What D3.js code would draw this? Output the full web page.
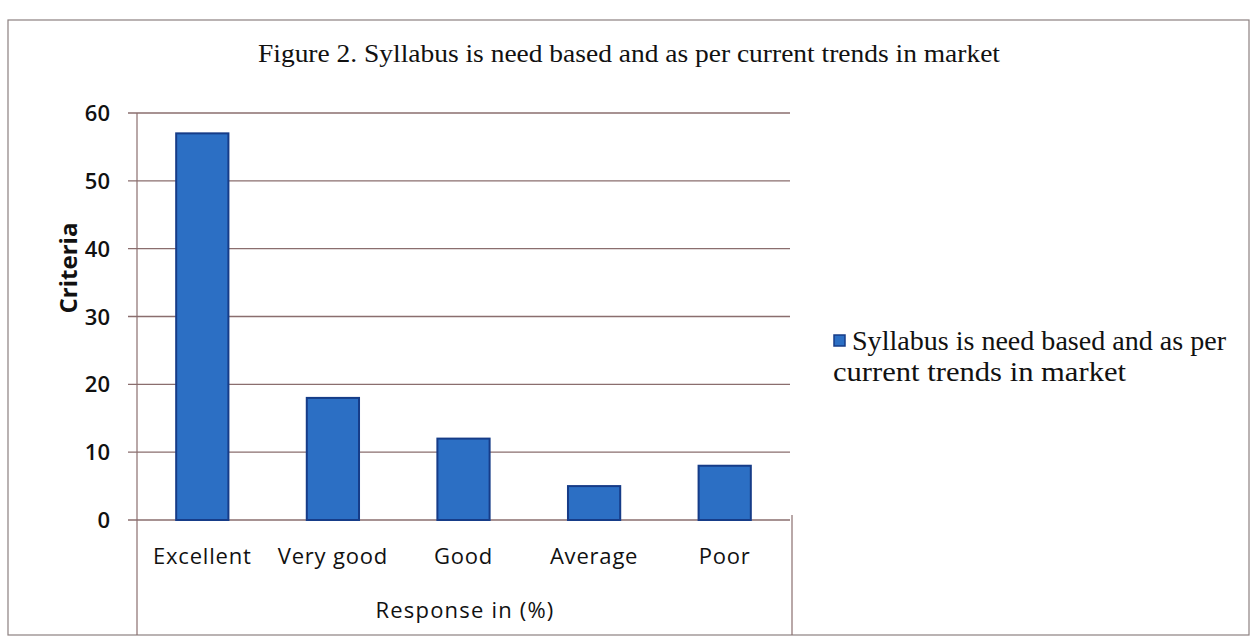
<!DOCTYPE html>
<html><head><meta charset="utf-8">
<script src="https://cdn.jsdelivr.net/npm/d3@7"></script>
<style>body{margin:0;background:#fff}svg{display:block}</style>
</head><body>
<svg id="c" width="1255" height="639"></svg>
<script>
const categories = ["Excellent","Very good","Good","Average","Poor"];
const values = [57, 18, 12, 5, 8];
const yTicks = [0,10,20,30,40,50,60];
const titleText = "Figure 2. Syllabus is need based and as per current trends in market";
const legendLines = ["Syllabus is need based and as per","current trends in market"];
const xTitle = "Response in (%)";
const yTitle = "Criteria";

const svg = d3.select("#c");
const L = 137, R = 790, T = 113, B = 520;

// outer frame
svg.append("rect").attr("x",8).attr("y",20).attr("width",1241).attr("height",615)
  .attr("fill","none").attr("stroke","#8c8080").attr("stroke-width",1.2);

const x = d3.scaleBand().domain(categories).range([L,R]).paddingInner(0.6).paddingOuter(0.3);
const y = d3.scaleLinear().domain([0,60]).range([B,T]);

const gridC = "#8a6e6e";
svg.append("g").selectAll("line").data(yTicks).join("line")
  .attr("x1",L-9).attr("x2",R).attr("y1",d=>y(d)).attr("y2",d=>y(d))
  .attr("stroke",gridC).attr("stroke-width",1.3);

svg.append("line").attr("x1",L).attr("x2",L).attr("y1",T).attr("y2",635).attr("stroke",gridC).attr("stroke-width",1.2);
svg.append("line").attr("x1",R+2).attr("x2",R+2).attr("y1",B-5).attr("y2",635).attr("stroke",gridC).attr("stroke-width",1.2);

const sans = "Open Sans, sans-serif";
svg.append("g").selectAll("text").data(yTicks).join("text")
  .attr("x",110).attr("y",d=>y(d)+8).attr("text-anchor","end")
  .attr("font-family",sans).attr("font-size",22).attr("font-weight",600)
  .attr("fill","#111").text(d=>d);

svg.append("g").selectAll("rect").data(values).join("rect")
  .attr("x",(d,i)=>x(categories[i])).attr("width",x.bandwidth())
  .attr("y",d=>y(d)).attr("height",d=>B-y(d))
  .attr("fill","#2c6fc4").attr("stroke","#163c88").attr("stroke-width",2);

svg.append("g").selectAll("text").data(categories).join("text")
  .attr("x",d=>x(d)+x.bandwidth()/2).attr("y",564).attr("text-anchor","middle")
  .attr("font-family",sans).attr("font-size",22).attr("letter-spacing",0.8)
  .attr("fill","#111").text(d=>d);

svg.append("text").attr("x",465).attr("y",618).attr("text-anchor","middle")
  .attr("font-family",sans).attr("font-size",22).attr("letter-spacing",1.2).attr("fill","#111").text(xTitle);
svg.append("text").attr("transform","translate(77,268) rotate(-90)").attr("text-anchor","middle")
  .attr("font-family",sans).attr("font-size",24).attr("font-weight",700).attr("fill","#111").text(yTitle);

svg.append("text").attr("x",258).attr("y",62).attr("textLength",742).attr("lengthAdjust","spacingAndGlyphs")
  .attr("font-family","Liberation Serif, serif").attr("font-size",26).attr("fill","#111").text(titleText);

svg.append("rect").attr("x",834).attr("y",335).attr("width",11).attr("height",11)
  .attr("fill","#2c6fc4").attr("stroke","#163c88").attr("stroke-width",1.5);
svg.append("text").attr("x",852).attr("y",350).attr("textLength",374).attr("lengthAdjust","spacingAndGlyphs")
  .attr("font-family","Liberation Serif, serif").attr("font-size",27).attr("fill","#111").text(legendLines[0]);
svg.append("text").attr("x",833).attr("y",381).attr("textLength",293).attr("lengthAdjust","spacingAndGlyphs")
  .attr("font-family","Liberation Serif, serif").attr("font-size",27).attr("fill","#111").text(legendLines[1]);
</script>
</body></html>
